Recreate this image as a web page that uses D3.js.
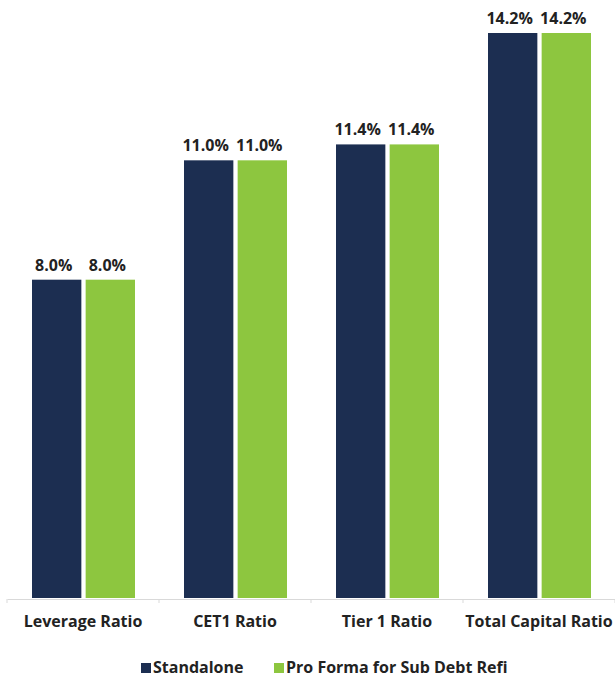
<!DOCTYPE html>
<html>
<head>
<meta charset="utf-8">
<script src="https://cdn.jsdelivr.net/npm/d3@7"></script>
<style>
  body { margin: 0; background: white; }
  text { font-family: "Open Sans", "DejaVu Sans", sans-serif; font-weight: bold; fill: #222; }
</style>
</head>
<body>
<script>
const categories = ["Leverage Ratio", "CET1 Ratio", "Tier 1 Ratio", "Total Capital Ratio"];
const seriesNames = ["Standalone", "Pro Forma for Sub Debt Refi"];
const standalone = [8.0, 11.0, 11.4, 14.2];
const proForma = [8.0, 11.0, 11.4, 14.2];
const colors = ["#1c2e51", "#8dc63f"];

const width = 615, height = 679;
const baseY = 598;

const svg = d3.select("body").append("svg")
    .attr("width", width)
    .attr("height", height);

const x = d3.scaleBand()
    .domain(categories)
    .range([7, 615])
    .paddingInner(0)
    .paddingOuter(0);

const inner = d3.scaleBand()
    .domain(seriesNames)
    .range([25, 152 - 24])
    .paddingInner(0.08);

const y = d3.scaleLinear()
    .domain([0, 14.2])
    .range([baseY, 33]);

const rows = categories.map((c, i) => ({
    cat: c,
    vals: [{ s: seriesNames[0], v: standalone[i] }, { s: seriesNames[1], v: proForma[i] }]
}));

const groups = svg.selectAll("g.cat")
    .data(rows)
    .join("g")
    .attr("class", "cat")
    .attr("transform", d => `translate(${x(d.cat)},0)`);

groups.selectAll("rect")
    .data(d => d.vals)
    .join("rect")
    .attr("x", d => inner(d.s))
    .attr("y", d => y(d.v))
    .attr("width", inner.bandwidth())
    .attr("height", d => baseY - y(d.v))
    .attr("fill", (d, i) => colors[i]);

groups.selectAll("text.val")
    .data(d => d.vals)
    .join("text")
    .attr("class", "val")
    .attr("x", d => inner(d.s) + inner.bandwidth() / 2 - 3)
    .attr("y", d => y(d.v) - 9)
    .attr("text-anchor", "middle")
    .attr("font-size", 16)
    .text(d => d.v.toFixed(1) + "%");

// x axis
const axis = svg.append("g")
    .attr("transform", `translate(0,${baseY + 1})`)
    .call(d3.axisBottom(x).tickSize(0).tickFormat(""));
axis.select(".domain").attr("stroke", "#d9d9d9");

svg.append("g").selectAll("line")
    .data(d3.range(categories.length + 1))
    .join("line")
    .attr("x1", i => 7 + i * x.step())
    .attr("x2", i => 7 + i * x.step())
    .attr("y1", baseY + 1)
    .attr("y2", baseY + 5)
    .attr("stroke", "#d9d9d9");

svg.append("g").selectAll("text")
    .data(categories)
    .join("text")
    .attr("x", d => x(d) + x.bandwidth() / 2)
    .attr("y", 627)
    .attr("text-anchor", "middle")
    .attr("font-size", 16)
    .text(d => d);

// legend
const legendX = [141, 274];
const legend = svg.append("g").selectAll("g")
    .data(seriesNames)
    .join("g")
    .attr("transform", (d, i) => `translate(${legendX[i]},663)`);
legend.append("rect")
    .attr("width", 10)
    .attr("height", 10)
    .attr("fill", (d, i) => colors[i]);
legend.append("text")
    .attr("x", 12)
    .attr("y", 10)
    .attr("font-size", 16)
    .text(d => d);
</script>
</body>
</html>
